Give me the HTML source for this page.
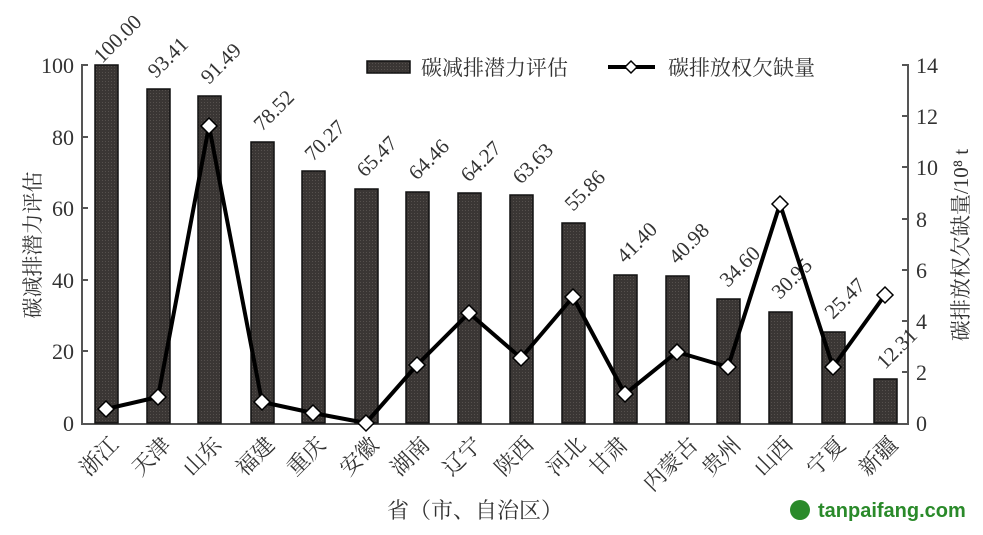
<!DOCTYPE html>
<html><head><meta charset="utf-8"><style>
body{margin:0;background:#fff}
text{font-family:"Liberation Serif","Noto Serif CJK SC",serif;fill:#333}
.c{font-family:"Liberation Serif","Noto Serif CJK SC","Noto Sans CJK SC",serif}
</style></head><body>
<svg width="983" height="530" viewBox="0 0 983 530" xmlns="http://www.w3.org/2000/svg">
<defs><pattern id="p" width="3" height="3" patternUnits="userSpaceOnUse"><rect width="3" height="3" fill="#3a3634"/><rect width="1" height="1" fill="#55504d"/></pattern></defs>
<g stroke="#555" stroke-width="2" fill="none">
<path d="M82 64 V424 H908 V64"/>
<path d="M82 65h6M82 137h6M82 208h6M82 280h6M82 351h6"/>
<path d="M908 65h-6M908 116h-6M908 167h-6M908 219h-6M908 270h-6M908 321h-6M908 372h-6"/>
</g>
<g font-size="22" text-anchor="end">
<text x="74" y="73">100</text><text x="74" y="145">80</text><text x="74" y="216">60</text><text x="74" y="288">40</text><text x="74" y="359">20</text><text x="74" y="431">0</text>
</g>
<g font-size="22">
<text x="916" y="73">14</text><text x="916" y="124">12</text><text x="916" y="175">10</text><text x="916" y="227">8</text><text x="916" y="278">6</text><text x="916" y="329">4</text><text x="916" y="380">2</text><text x="916" y="431">0</text>
</g>
<text class="c" font-size="21" transform="translate(40 245) rotate(-90)" text-anchor="middle">碳减排潜力评估</text>
<text class="c" font-size="21" transform="translate(968 245) rotate(-90)" text-anchor="middle">碳排放权欠缺量/10⁸ t</text>
<g fill="url(#p)" stroke="#111" stroke-width="1.5">
<rect x="95" y="65" width="23" height="358"/>
<rect x="147" y="89" width="23" height="334"/>
<rect x="198" y="96" width="23" height="327"/>
<rect x="251" y="142" width="23" height="281"/>
<rect x="302" y="171" width="23" height="252"/>
<rect x="355" y="189" width="23" height="234"/>
<rect x="406" y="192" width="23" height="231"/>
<rect x="458" y="193" width="23" height="230"/>
<rect x="510" y="195" width="23" height="228"/>
<rect x="562" y="223" width="23" height="200"/>
<rect x="614" y="275" width="23" height="148"/>
<rect x="666" y="276" width="23" height="147"/>
<rect x="717" y="299" width="23" height="124"/>
<rect x="769" y="312" width="23" height="111"/>
<rect x="822" y="332" width="23" height="91"/>
<rect x="874" y="379" width="23" height="44"/>
</g>
<g font-size="21">
<text transform="translate(102 64) rotate(-45)">100.00</text>
<text transform="translate(156 79) rotate(-45)">93.41</text>
<text transform="translate(209 85) rotate(-45)">91.49</text>
<text transform="translate(262 132) rotate(-45)">78.52</text>
<text transform="translate(313 162) rotate(-45)">70.27</text>
<text transform="translate(365 178) rotate(-45)">65.47</text>
<text transform="translate(417 181) rotate(-45)">64.46</text>
<text transform="translate(469 183) rotate(-45)">64.27</text>
<text transform="translate(521 185) rotate(-45)">63.63</text>
<text transform="translate(573 212) rotate(-45)">55.86</text>
<text transform="translate(625 264) rotate(-45)">41.40</text>
<text transform="translate(677 265) rotate(-45)">40.98</text>
<text transform="translate(728 288) rotate(-45)">34.60</text>
<text transform="translate(780 300) rotate(-45)">30.95</text>
<text transform="translate(833 320) rotate(-45)">25.47</text>
<text transform="translate(885 370) rotate(-45)">12.31</text>
</g>
<polyline fill="none" stroke="#000" stroke-width="4" stroke-linejoin="round" points="106,409 158,397 209,126 262,402 313,413 366,423 417,365 469,313 521,358 573,297 625,394 677,352 728,367 780,204 833,367 885,295"/>
<g fill="#fff" stroke="#000" stroke-width="1.5">
<path d="M106 401l8 8-8 8-8-8z"/><path d="M158 389l8 8-8 8-8-8z"/><path d="M209 118l8 8-8 8-8-8z"/><path d="M262 394l8 8-8 8-8-8z"/><path d="M313 405l8 8-8 8-8-8z"/><path d="M366 415l8 8-8 8-8-8z"/><path d="M417 357l8 8-8 8-8-8z"/><path d="M469 305l8 8-8 8-8-8z"/><path d="M521 350l8 8-8 8-8-8z"/><path d="M573 289l8 8-8 8-8-8z"/><path d="M625 386l8 8-8 8-8-8z"/><path d="M677 344l8 8-8 8-8-8z"/><path d="M728 359l8 8-8 8-8-8z"/><path d="M780 196l8 8-8 8-8-8z"/><path d="M833 359l8 8-8 8-8-8z"/><path d="M885 287l8 8-8 8-8-8z"/>
</g>
<rect x="367" y="61" width="43" height="12" fill="url(#p)" stroke="#111" stroke-width="1.5"/>
<text class="c" x="421" y="75" font-size="21">碳减排潜力评估</text>
<line x1="608" y1="67" x2="655" y2="67" stroke="#000" stroke-width="4"/>
<path d="M631 61l6 6-6 6-6-6z" fill="#fff" stroke="#000" stroke-width="1.5"/>
<text class="c" x="668" y="75" font-size="21">碳排放权欠缺量</text>
<g class="c" font-size="22" text-anchor="end">
<text transform="translate(120 446) rotate(-45)">浙江</text>
<text transform="translate(172 446) rotate(-45)">天津</text>
<text transform="translate(223 446) rotate(-45)">山东</text>
<text transform="translate(276 446) rotate(-45)">福建</text>
<text transform="translate(327 446) rotate(-45)">重庆</text>
<text transform="translate(380 446) rotate(-45)">安徽</text>
<text transform="translate(431 446) rotate(-45)">湖南</text>
<text transform="translate(483 446) rotate(-45)">辽宁</text>
<text transform="translate(535 446) rotate(-45)">陕西</text>
<text transform="translate(587 446) rotate(-45)">河北</text>
<text transform="translate(629 446) rotate(-45)">甘肃</text>
<text transform="translate(699 446) rotate(-45)">内蒙古</text>
<text transform="translate(742 446) rotate(-45)">贵州</text>
<text transform="translate(794 446) rotate(-45)">山西</text>
<text transform="translate(847 446) rotate(-45)">宁夏</text>
<text transform="translate(899 446) rotate(-45)">新疆</text>
</g>
<text class="c" x="475" y="518" font-size="22" text-anchor="middle">省（市、自治区）</text>
<circle cx="800" cy="510" r="10" fill="#2a8a2a"/>
<text x="818" y="517" font-size="20" font-weight="bold" fill="#2a8a2a" style="font-family:'Liberation Sans',sans-serif;fill:#2a8a2a">tanpaifang.com</text>
</svg>
</body></html>
